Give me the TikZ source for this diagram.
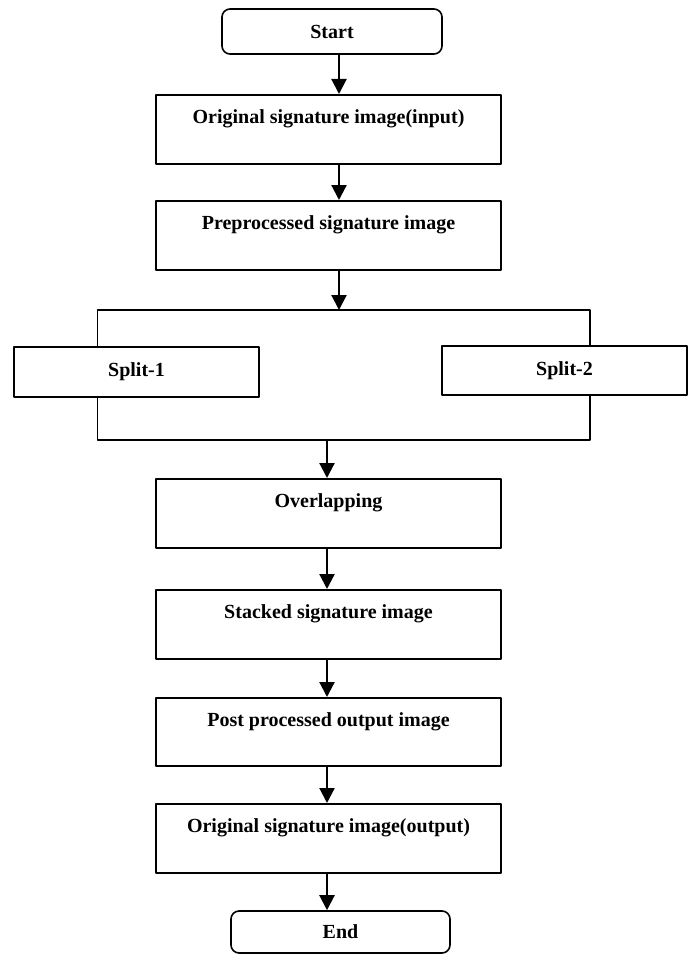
\documentclass[tikz,border=0pt]{standalone}
\usepackage{fontspec}
\setmainfont{Liberation Serif}
\usetikzlibrary{arrows.meta}
\begin{document}
\begin{tikzpicture}[x=1pt,y=-1pt,line join=round,
  >={Triangle[width=15pt,length=15pt]},
  font=\bfseries\fontsize{20}{24}\selectfont,
  term/.style={draw,line width=1.6pt,rounded corners=8pt,inner sep=0pt},
  procbox/.style={draw,line width=1.6pt,anchor=north,minimum width=345pt,inner sep=0pt,text height=29pt,text depth=40pt},
  splitbox/.style={draw,line width=1.6pt,minimum width=245pt,minimum height=50pt,inner sep=0pt},
  wire/.style={line width=1.6pt},
  arr/.style={->,line width=2.2pt}]
\useasboundingbox (0,0) rectangle (696,955);
\node[term,minimum width=220pt,minimum height=45pt] (start) at (332,31.5) {Start};
\node[procbox] (orig) at (328.5,94) {Original signature image(input)};
\node[procbox] (pre) at (328.5,200) {Preprocessed signature image};
\node[splitbox] (split1) at (136.5,372) {Split-1};
\node[splitbox,minimum height=49pt] (split2) at (564.5,370.5) {Split-2};
\node[procbox] (overlap) at (328.5,478) {Overlapping};
\node[procbox] (stack) at (328.5,589) {Stacked signature image};
\node[procbox,text depth=39pt] (post) at (328.5,697) {Post processed output image};
\node[procbox] (out) at (328.5,803) {Original signature image(output)};
\node[term,minimum width=219pt,minimum height=42pt] (end) at (340.5,932) {End};
% bracket round the two splits
\coordinate (fork) at (339,310);
\coordinate (join) at (327,440);
\coordinate (lx) at (97.5,0);
\coordinate (rx) at (590,0);
\draw[wire] (split1.north -| lx) |- (fork) -| (split2.north -| rx);
\draw[wire] (split1.south -| lx) |- (join) -| (split2.south -| rx);
% arrows
\draw[arr] (start.south -| fork) -- (orig.north -| fork);
\draw[arr] (orig.south -| fork) -- (pre.north -| fork);
\draw[arr] (pre.south -| fork) -- (fork);
\draw[arr] (join) -- (overlap.north -| join);
\draw[arr] (overlap.south -| join) -- (stack.north -| join);
\draw[arr] (stack.south -| join) -- (post.north -| join);
\draw[arr] (post.south -| join) -- (out.north -| join);
\draw[arr] (out.south -| join) -- (end.north -| join);
\end{tikzpicture}
\end{document}
